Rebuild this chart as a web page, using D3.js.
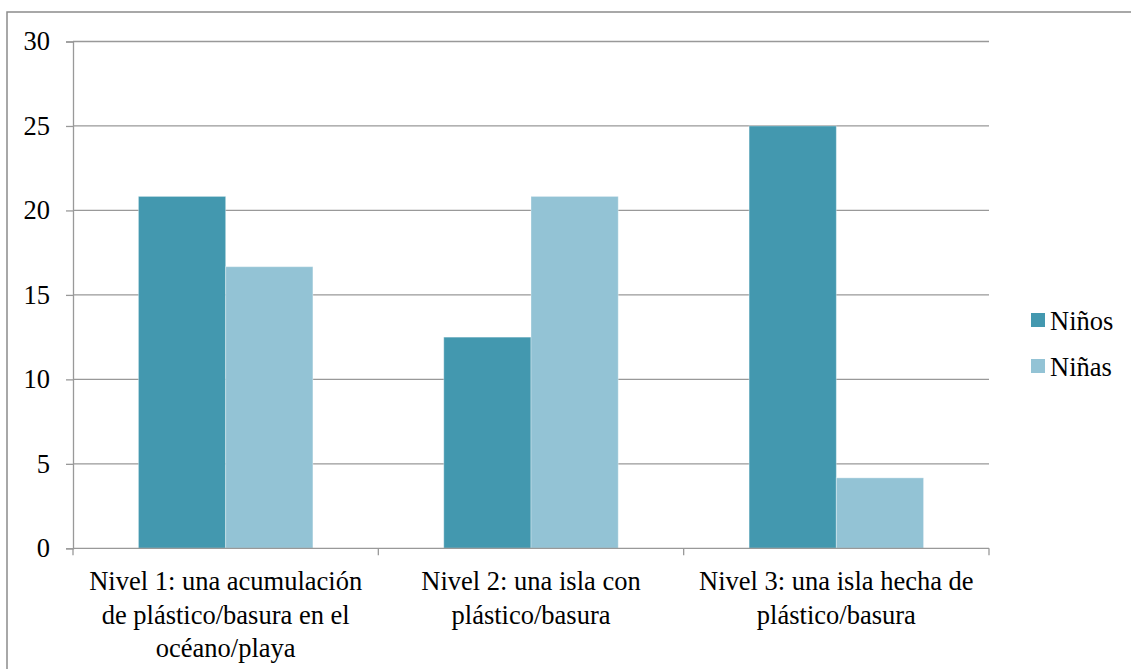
<!DOCTYPE html>
<html>
<head>
<meta charset="utf-8">
<script src="https://cdn.jsdelivr.net/npm/d3@7"></script>
<style>
  html, body { margin: 0; padding: 0; background: #fff; }
  svg { display: block; }
</style>
</head>
<body>
<svg id="chart" width="1131" height="669" font-family="Liberation Serif"></svg>
<script>
// Categories, series and values (percent of each group)
const categories = [
  "Nivel 1: una acumulación de plástico/basura en el océano/playa",
  "Nivel 2: una isla con plástico/basura",
  "Nivel 3: una isla hecha de plástico/basura"
];
const seriesNames = ["Niños", "Niñas"];
const ninos = [20.83, 12.5, 25];
const ninas = [16.67, 20.83, 4.17];
const yTicks = [0, 5, 10, 15, 20, 25, 30];
const colors = ["#4398AF", "#93C3D5"];

const svg = d3.select("#chart");
const W = 1131, H = 669;
const plot = { left: 73, right: 989, top: 41.5, bottom: 548.3 };
const fontSize = 26.5;
const serif = "Liberation Serif";
const gridColor = "#999999";

// Outer frame (right and bottom edges fall outside the view)
svg.append("rect")
  .attr("x", 7).attr("y", 12)
  .attr("width", W + 10).attr("height", H + 10)
  .attr("fill", "none")
  .attr("stroke", "#8c8c8c")
  .attr("stroke-width", 1.5);

const x = d3.scaleBand().domain(categories).range([plot.left, plot.right]).padding(0);
const xs = d3.scaleBand().domain(seriesNames).range([0, x.bandwidth()])
  .paddingInner(0).paddingOuter(0.75);
const y = d3.scaleLinear().domain([0, 30]).range([plot.bottom, plot.top]);

// Horizontal gridlines
svg.append("g").selectAll("line")
  .data(yTicks.filter(d => d > 0))
  .join("line")
  .attr("x1", plot.left).attr("x2", plot.right)
  .attr("y1", d => y(d)).attr("y2", d => y(d))
  .attr("stroke", gridColor).attr("stroke-width", 1.3);

// Bars
const rows = categories.map((c, i) => ({ cat: c, vals: [ninos[i], ninas[i]] }));
const groups = svg.append("g").selectAll("g")
  .data(rows).join("g")
  .attr("transform", d => `translate(${x(d.cat)},0)`);
groups.selectAll("rect")
  .data(d => d.vals.map((v, j) => ({ s: seriesNames[j], v, j })))
  .join("rect")
  .attr("x", d => xs(d.s))
  .attr("width", xs.bandwidth())
  .attr("y", d => y(d.v))
  .attr("height", d => y(0) - y(d.v))
  .attr("fill", d => colors[d.j])
  .attr("stroke", "rgba(255,255,255,0.35)")
  .attr("stroke-width", 1);

// Y axis
const yAxis = d3.axisLeft(y).tickValues(yTicks).tickSize(7).tickPadding(16)
  .tickFormat(d3.format("d"));
const gy = svg.append("g").attr("transform", `translate(${plot.left},0)`).call(yAxis);
gy.attr("font-family", serif).attr("font-size", fontSize);
gy.select(".domain").attr("stroke", gridColor).attr("stroke-width", 1.3);
gy.selectAll(".tick line").attr("stroke", gridColor).attr("stroke-width", 1.3);
gy.selectAll(".tick text")
  .attr("font-family", serif)
  .attr("font-size", fontSize)
  .attr("fill", "#000");

// X axis (ticks at category boundaries)
svg.append("line")
  .attr("x1", plot.left).attr("x2", plot.right)
  .attr("y1", plot.bottom).attr("y2", plot.bottom)
  .attr("stroke", gridColor).attr("stroke-width", 1.3);
const boundaries = categories.map(c => x(c)).concat([x(categories[categories.length - 1]) + x.bandwidth()]);
svg.append("g").selectAll("line")
  .data(boundaries).join("line")
  .attr("x1", d => d).attr("x2", d => d)
  .attr("y1", plot.bottom).attr("y2", plot.bottom + 7)
  .attr("stroke", gridColor).attr("stroke-width", 1.3);

// Category labels wrapped to fit inside each band
const maxLabelWidth = 290;
const lineHeight = 33.5;
const labels = svg.append("g").selectAll("text")
  .data(categories).join("text")
  .attr("text-anchor", "middle")
  .attr("font-family", serif)
  .attr("font-size", fontSize)
  .attr("fill", "#000")
  .attr("x", d => x(d) + x.bandwidth() / 2)
  .attr("y", 590);

labels.each(function (d) {
  const t = d3.select(this);
  const words = d.split(" ");
  const lines = [];
  let cur = [];
  const probe = t.append("tspan");
  words.forEach(w => {
    probe.text(cur.concat([w]).join(" "));
    if (probe.node().getComputedTextLength() > maxLabelWidth && cur.length) {
      lines.push(cur.join(" "));
      cur = [w];
    } else {
      cur.push(w);
    }
  });
  if (cur.length) lines.push(cur.join(" "));
  probe.remove();
  lines.forEach((ln, i) => {
    t.append("tspan")
      .attr("x", x(d) + x.bandwidth() / 2)
      .attr("dy", i === 0 ? 0 : lineHeight)
      .text(ln);
  });
});

// Legend
const legend = svg.append("g").selectAll("g")
  .data(seriesNames).join("g")
  .attr("transform", (d, i) => `translate(1031,${313 + i * 46})`);
legend.append("rect")
  .attr("width", 14).attr("height", 14)
  .attr("fill", (d, i) => colors[i]);
legend.append("text")
  .attr("x", 19).attr("y", 17)
  .attr("font-family", serif)
  .attr("font-size", fontSize)
  .attr("fill", "#000")
  .text(d => d);
</script>
</body>
</html>
